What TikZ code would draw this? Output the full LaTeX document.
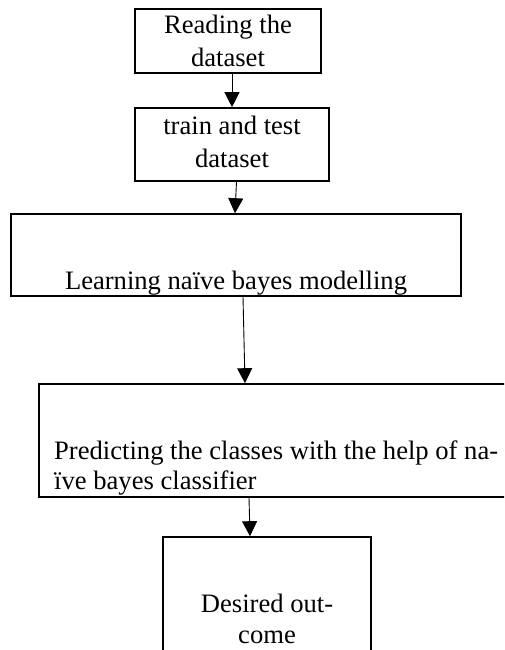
\documentclass[tikz,border=0pt]{standalone}
\usepackage{fontspec}
\setmainfont{Liberation Serif}
\usetikzlibrary{arrows.meta}
\begin{document}
\begin{tikzpicture}[x=1pt,y=-1pt,
  box/.style={draw,line width=1.6pt,rectangle,inner sep=0pt},
  txt/.style={inner sep=0pt,anchor=base,font=\fontsize{26.6}{31}\selectfont},
  txtl/.style={txt,anchor=base west},
  arr/.style={line width=0.9pt,-{Triangle[width=15pt,length=15pt]}}]
\useasboundingbox (0,0) rectangle (504,650);
\clip (0,0) rectangle (504,650);
% boxes
\node[box,minimum width=186pt,minimum height=64pt] (b1) at (228,41) {};
\node[box,minimum width=194pt,minimum height=73pt] (b2) at (232,144.5) {};
\node[box,minimum width=450pt,minimum height=82pt] (b3) at (236,255) {};
\node[box,minimum width=471pt,minimum height=113pt] (b4) at (274.5,440.5) {};
\node[box,minimum width=208pt,minimum height=123pt] (b5) at (267,598.5) {};
% texts
\node[txt] (t1a) at (228,34) {Reading the};
\node[txt] (t1b) at (228,67) {dataset};
\node[txt] (t2a) at (232,135) {train and test};
\node[txt] (t2b) at (232,167) {dataset};
\node[txt] (t3) at (236,289) {Learning naïve bayes modelling};
\node[txtl] (t4a) at (54,459) {Predicting the classes with the help of na-};
\node[txtl] (t4b) at (54,489) {ïve bayes classifier};
\node[txt] (t5a) at (267,612) {Desired out-};
\node[txt] (t5b) at (267,643) {come};
% connectors
\draw[arr] ([xshift=4pt]b1.south) -- (b2.north);
\draw[arr] ([xshift=4.5pt]b2.south) -- ([xshift=-1pt]b3.north);
\draw[arr] ([xshift=7pt]b3.south) -- ([xshift=-29.5pt]b4.north);
\draw[arr] ([xshift=-25.5pt]b4.south) -- ([xshift=-17pt]b5.north);
\end{tikzpicture}
\end{document}
